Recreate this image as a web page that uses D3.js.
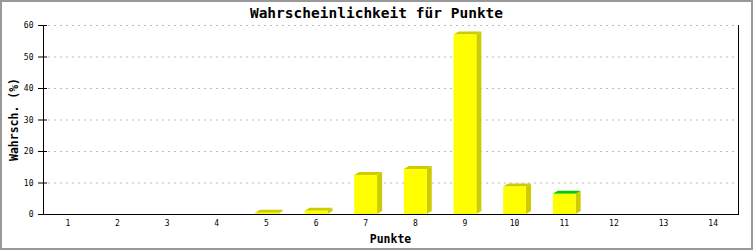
<!DOCTYPE html>
<html><head><meta charset="utf-8">
<script src="https://cdn.jsdelivr.net/npm/d3@7"></script>
<style>html,body{margin:0;padding:0;background:#fff;}svg{display:block;}</style>
</head><body>
<script>
const categories = ["1","2","3","4","5","6","7","8","9","10","11","12","13","14"];
const values = [0,0,0,0,0.4,1.0,12.4,14.3,57.0,8.7,6.4,0,0,0];
const highlight = ["11"];
const yTicks = [0,10,20,30,40,50,60];
const title = "Wahrscheinlichkeit für Punkte";
const xTitle = "Punkte";
const yTitle = "Wahrsch. (%)";

const W = 753, H = 250;
const m = {l:43, r:15, t:25, b:36};
const svg = d3.select("body").append("svg").attr("width",W).attr("height",H);
svg.append("rect").attr("x",1).attr("y",1).attr("width",W-2).attr("height",H-2)
  .attr("fill","#fff").attr("stroke","#999").attr("stroke-width",2);

const x = d3.scaleBand().domain(categories).range([m.l, W-m.r]).paddingInner(0.54).paddingOuter(0.27);
const y = d3.scaleLinear().domain([0,60]).range([H-m.b, m.t]);
const font = "'DejaVu Sans Mono', monospace";

// grid
svg.append("g").selectAll("line").data(yTicks.filter(d=>d>0)).join("line")
  .attr("x1",m.l+5).attr("x2",W-m.r).attr("y1",d=>y(d)+0.5).attr("y2",d=>y(d)+0.5)
  .attr("stroke","#bbb").attr("stroke-dasharray","2,4");

// bars
const dx=5, dy=3;
const bars = svg.append("g").selectAll("g").data(categories.map((c,i)=>({c,v:values[i]})).filter(d=>d.v>0)).join("g");
bars.append("polygon").attr("fill","#cccc00").attr("points",d=>{
  const x1=x(d.c)+x.bandwidth(), yt=y(d.v), y0=y(0);
  return [[x1,yt],[x1+dx,yt-dy],[x1+dx,y0-dy],[x1,y0]].join(" ");});
bars.append("polygon").attr("fill",d=>highlight.includes(d.c)?"#00cc00":"#cccc00").attr("points",d=>{
  const x0=x(d.c), x1=x0+x.bandwidth(), yt=y(d.v);
  return [[x0,yt],[x0+dx,yt-dy],[x1+dx,yt-dy],[x1,yt]].join(" ");});
bars.append("rect").attr("fill","#ffff00")
  .attr("x",d=>x(d.c)).attr("width",x.bandwidth())
  .attr("y",d=>y(d.v)).attr("height",d=>y(0)-y(d.v));

// y axis
const ya = svg.append("g").attr("transform",`translate(${m.l+0.5},0)`)
  .call(d3.axisLeft(y).tickValues(yTicks).tickSize(0).tickPadding(10).tickFormat(d3.format("d")));
ya.select(".domain").remove();
ya.selectAll("text").attr("font-family",font).attr("font-size",8).attr("fill","#000");
svg.append("g").selectAll("line").data(yTicks).join("line")
  .attr("x1",m.l-5).attr("x2",m.l+4).attr("y1",d=>y(d)+0.5).attr("y2",d=>y(d)+0.5)
  .attr("stroke","#000");
svg.append("line").attr("x1",m.l+0.5).attr("x2",m.l+0.5).attr("y1",y(60)).attr("y2",y(0)).attr("stroke","#000");
svg.append("line").attr("x1",W-m.r+0.5).attr("x2",W-m.r+0.5).attr("y1",y(60)).attr("y2",y(0)).attr("stroke","#000");

// x axis
const xa = svg.append("g").attr("transform",`translate(0,${y(0)+0.5})`)
  .call(d3.axisBottom(x).tickSize(0).tickPadding(6));
xa.select(".domain").remove();
xa.selectAll("text").attr("font-family",font).attr("font-size",8).attr("fill","#000");
svg.append("line").attr("x1",m.l-5).attr("x2",W-m.r+1).attr("y1",y(0)+0.5).attr("y2",y(0)+0.5).attr("stroke","#000");

// titles
svg.append("text").attr("x",W/2).attr("y",18).attr("text-anchor","middle")
  .attr("font-family",font).attr("font-weight","bold").attr("font-size",14.5).text(title);
svg.append("text").attr("x",(m.l+W-m.r)/2).attr("y",243).attr("text-anchor","middle")
  .attr("font-family",font).attr("font-weight","bold").attr("font-size",11.5).text(xTitle);
svg.append("text").attr("transform",`translate(18,${(y(0)+y(60))/2}) rotate(-90)`).attr("text-anchor","middle")
  .attr("font-family",font).attr("font-weight","bold").attr("font-size",11.5).text(yTitle);
</script>
</body></html>
